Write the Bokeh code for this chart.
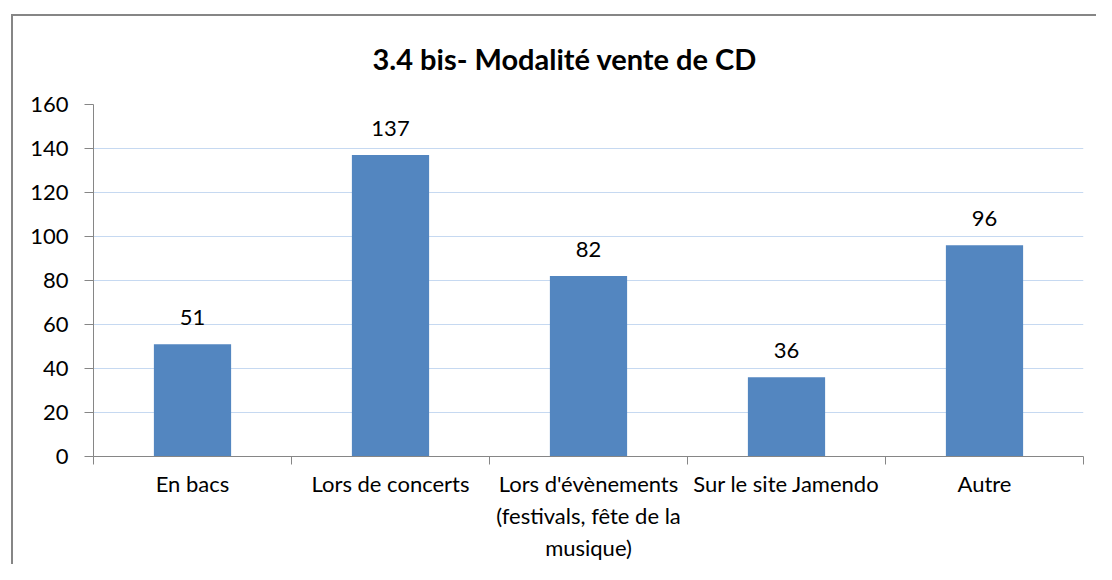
from bokeh.plotting import figure
from bokeh.models import ColumnDataSource, FixedTicker, LabelSet, Title, Range1d
from bokeh.core.properties import value
from bokeh.embed import file_html
from bokeh.resources import INLINE

categories = ["En bacs", "Lors de concerts",
              "Lors d'évènements\n(festivals, fête de la\nmusique)",
              "Sur le site Jamendo", "Autre"]
values = [51, 137, 82, 36, 96]
y_ticks = [0, 20, 40, 60, 80, 100, 120, 140, 160]
title_text = "3.4 bis- Modalité vente de CD"

FONT = "Lato"
x_pos = [i + 0.5 for i in range(len(categories))]
src = ColumnDataSource(dict(x=x_pos, top=values, label=[str(v) for v in values]))

p = figure(width=1096, height=564, output_backend="svg", toolbar_location=None,
           x_range=Range1d(0, len(categories)), y_range=Range1d(0, 160),
           min_border_left=93, min_border_top=104, min_border_right=13, min_border_bottom=105)
p.title = Title(text=title_text, align="left", text_font=FONT, text_font_size="29px",
                text_font_style="bold", text_color="#000000", standoff=58, offset=279)

# chart-area border (left and top edges, as in the reference)
p.styles = {"background": "linear-gradient(#868686,#868686) 11px 14px / 2px 100% no-repeat, "
                          "linear-gradient(#868686,#868686) 11px 14px / 100% 2px no-repeat, #ffffff"}
p.border_fill_alpha = 0

p.vbar(x="x", top="top", width=0.39, source=src, fill_color="#5386C0", line_color=None)

labels = LabelSet(x="x", y="top", text="label", source=src, text_align="center",
                  text_baseline="alphabetic", y_offset=19, text_font=value(FONT),
                  text_font_size=value("22px"), text_color="#000000")
p.add_layout(labels)

p.outline_line_color = None
p.background_fill_color = "white"
p.xgrid.grid_line_color = None
p.ygrid.grid_line_color = "#C6D9F1"
p.ygrid.grid_line_width = 1

p.yaxis.ticker = FixedTicker(ticks=y_ticks)
p.yaxis.axis_line_color = "#868686"
p.yaxis.major_tick_line_color = "#868686"
p.yaxis.major_tick_out = 9
p.yaxis.major_tick_in = 0
p.yaxis.minor_tick_line_color = None
p.yaxis.major_label_standoff = 16
p.yaxis.major_label_text_font = FONT
p.yaxis.major_label_text_font_size = "22px"
p.yaxis.major_label_text_color = "#000000"

p.xaxis.ticker = FixedTicker(ticks=x_pos, minor_ticks=list(range(len(categories) + 1)))
p.xaxis.major_label_overrides = {x: c for x, c in zip(x_pos, categories)}
p.xaxis.axis_line_color = "#868686"
p.xaxis.major_tick_line_color = None
p.xaxis.minor_tick_line_color = "#868686"
p.xaxis.minor_tick_out = 8
p.xaxis.minor_tick_in = 0
p.xaxis.major_tick_out = 8
p.xaxis.major_label_standoff = 5
p.xaxis.major_label_text_font = FONT
p.xaxis.major_label_text_font_size = "22px"
p.xaxis.major_label_text_color = "#000000"

open("out.html", "w").write(file_html(p, INLINE))
